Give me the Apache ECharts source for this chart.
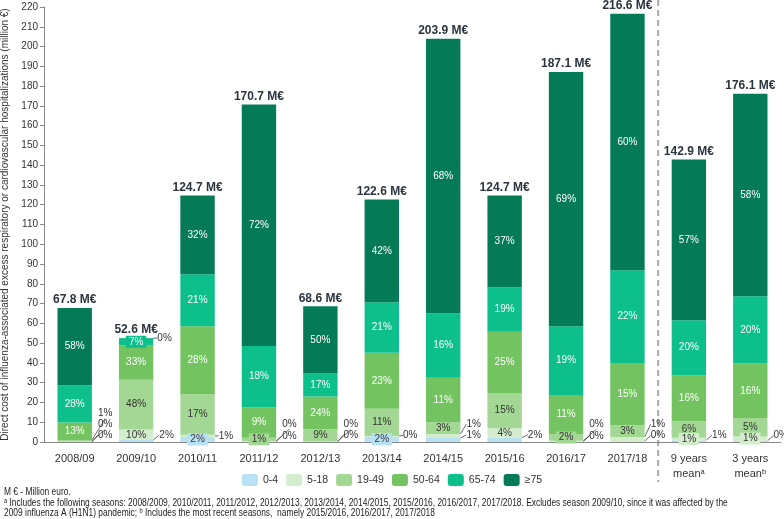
<!DOCTYPE html>
<html>
<head>
<meta charset="utf-8">
<script src="https://cdn.jsdelivr.net/npm/echarts@6/dist/echarts.min.js"></script>
<style>
  html, body { margin: 0; padding: 0; background: #fff; }
  #chart { width: 784px; height: 519px; }
</style>
</head>
<body>
<div id="chart"></div>
<script>
// seasons and the two means
const categories = ['2008/09', '2009/10', '2010/11', '2011/12', '2012/13', '2013/14', '2014/15',
  '2015/16', '2016/17', '2017/18', '9 years\nmean\u1d43', '3 years\nmean\u1d47'];
const totals = [67.8, 52.6, 124.7, 170.7, 68.6, 122.6, 203.9, 124.7, 187.1, 216.6, 142.9, 176.1];

// cost per age group (million €)
const age04   = [0.1, 1.0, 2.5, 0.2, 0.1, 2.7, 2.0, 2.2, 0.2, 0.4, 0.9, 0.6];
const age518  = [0.2, 5.3, 1.2, 0.3, 0.2, 0.3, 2.0, 4.7, 0.4, 2.1, 1.2, 2.2];
const age1949 = [0.7, 25.2, 20.5, 1.7, 6.2, 13.8, 6.1, 17.9, 3.3, 6.0, 8.4, 9.3];
const age5064 = [8.8, 17.4, 34.4, 15.4, 16.5, 28.3, 22.4, 30.9, 19.9, 31.5, 23.3, 27.6];
const age6574 = [18.9, 3.6, 26.2, 31.0, 11.7, 25.6, 32.6, 22.6, 34.8, 46.9, 27.8, 34.0];
const age75   = [39.1, 0.1, 39.9, 122.1, 33.9, 51.9, 138.8, 46.4, 128.5, 129.7, 81.3, 102.4];

// share labels as printed
const pct04   = ['0%', '2%', '2%', '0%', '0%', '2%', '1%', '2%', '0%', '0%', '1%', '0%'];
const pct518  = ['0%', '10%', '1%', '0%', '0%', '0%', '1%', '4%', '0%', '1%', '1%', '1%'];
const pct1949 = ['1%', '48%', '17%', '1%', '9%', '11%', '3%', '15%', '2%', '3%', '6%', '5%'];
const pct5064 = ['13%', '33%', '28%', '9%', '24%', '23%', '11%', '25%', '11%', '15%', '16%', '16%'];
const pct6574 = ['28%', '7%', '21%', '18%', '17%', '21%', '16%', '19%', '19%', '22%', '20%', '20%'];
const pct75   = ['58%', '0%', '32%', '72%', '50%', '42%', '68%', '37%', '69%', '60%', '57%', '58%'];

const groups = ['0-4', '5-18', '19-49', '50-64', '65-74', '≥75'];
const colors = ['#b9e1f4', '#d3edcd', '#a3d894', '#73c360', '#0cbf8b', '#047b56'];
const textColors = ['#333', '#333', '#333', '#fff', '#fff', '#fff'];

// labels moved beside the bar: group index, category index, dy from segment centre
const outLabels = [
  [0, 0, -7], [1, 0, -17], [2, 0, -27],
  [0, 1, -6], [5, 1, 0],
  [1, 2, 0],
  [0, 3, -6], [1, 3, -17],
  [0, 4, -7], [1, 4, -17],
  [1, 5, -1],
  [0, 6, -5], [1, 6, -12],
  [0, 7, -5],
  [0, 8, -6], [1, 8, -17],
  [0, 9, -6], [1, 9, -15],
  [0, 10, -6],
  [0, 11, -6]
];
// small segments whose label sits on a coloured box
const boxLabels = [[0, 2], [2, 3], [0, 5], [2, 8], [1, 10], [1, 11], [4, 1]];

const values = [age04, age518, age1949, age5064, age6574, age75];
const pcts = [pct04, pct518, pct1949, pct5064, pct6574, pct75];

const chart = echarts.init(document.getElementById('chart'));

function findOut(g, i) {
  return outLabels.find(o => o[0] === g && o[1] === i);
}
function isBox(g, i) {
  return boxLabels.some(b => b[0] === g && b[1] === i);
}

const series = groups.map((name, g) => ({
  name: name,
  type: 'bar',
  stack: 'cost',
  barWidth: '56%',
  itemStyle: { color: colors[g] },
  data: values[g].map((v, i) => {
    const item = {
      value: v,
      label: {
        show: true,
        position: 'inside',
        formatter: pcts[g][i],
        color: textColors[g],
        fontSize: 10,
        fontFamily: 'Liberation Sans, Arial, sans-serif'
      }
    };
    if (isBox(g, i)) {
      item.label.backgroundColor = colors[g];
      item.label.padding = [1, 3];
    }
    if (findOut(g, i)) {
      item.label.color = '#333';
      item.labelLine = { show: true, lineStyle: { color: '#444', width: 0.8 } };
    }
    return item;
  }),
  labelLayout: function (params) {
    const o = findOut(g, params.dataIndex);
    if (!o) return {};
    const r = params.rect;
    return {
      x: r.x + r.width + (o[2] === 0 || o[2] === -1 ? 4 : 6),
      y: r.y + r.height / 2 + o[2],
      align: 'left',
      verticalAlign: 'middle'
    };
  }
}));

series.push({
  name: 'total',
  type: 'bar',
  stack: 'cost',
  barWidth: '56%',
  data: totals.map(() => 0),
  label: {
    show: true,
    position: 'top',
    distance: 2,
    formatter: p => totals[p.dataIndex].toFixed(1) + ' M€',
    fontWeight: 'bold',
    fontSize: 12,
    color: '#2b3540',
    fontFamily: 'Liberation Sans, Arial, sans-serif'
  }
});

const option = {
  animation: false,
  backgroundColor: '#fff',
  textStyle: { fontFamily: 'Liberation Sans, Arial, sans-serif' },
  grid: { left: 44, right: 3, top: 7, bottom: 77, outerBoundsMode: 'none', containLabel: false },
  legend: {
    data: groups,
    top: 469,
    left: 'center',
    itemWidth: 16,
    itemHeight: 12,
    itemGap: 8,
    textStyle: { fontSize: 10.5, color: '#333' }
  },
  xAxis: {
    type: 'category',
    data: categories,
    axisLine: { lineStyle: { color: '#888' } },
    axisTick: { show: false },
    axisLabel: { fontSize: 11, color: '#333', margin: 9, lineHeight: 15 }
  },
  yAxis: {
    type: 'value',
    min: 0,
    max: 220,
    interval: 10,
    name: 'Direct cost of influenza-associated excess respiratory or cardiovascular hospitalizations (million €)',
    nameLocation: 'middle',
    nameRotate: 90,
    nameGap: 33,
    nameTextStyle: { fontSize: 10, color: '#333' },
    axisLine: { show: true, lineStyle: { color: '#888' } },
    axisTick: { show: true, length: 4, lineStyle: { color: '#888' } },
    axisLabel: { fontSize: 10, color: '#333', margin: 6 },
    splitLine: { show: false }
  },
  series: series
};

chart.setOption(option);

// dashed separator between the seasons and the means
const xa = chart.convertToPixel({ xAxisIndex: 0 }, 9);
const xb = chart.convertToPixel({ xAxisIndex: 0 }, 10);
const sepX = (xa + xb) / 2;

const noteStyle = { fontSize: 10.5, fill: '#222', fontFamily: 'Liberation Sans, Arial, sans-serif' };
chart.setOption({
  graphic: [
    {
      type: 'line',
      shape: { x1: sepX, y1: 0, x2: sepX, y2: 482 },
      style: { stroke: '#aaa', lineWidth: 2, lineDash: [6, 4] },
      silent: true
    },
    { type: 'text', x: 4, y: 487, scaleX: 0.8, style: Object.assign({ text: 'M € - Million euro.' }, noteStyle) },
    { type: 'text', x: 4, y: 497.5, scaleX: 0.8, style: Object.assign({ text: '\u1d43 Includes the following seasons: 2008/2009, 2010/2011, 2011/2012, 2012/2013, 2013/2014, 2014/2015, 2015/2016, 2016/2017, 2017/2018. Excludes season 2009/10, since it was affected by the' }, noteStyle) },
    { type: 'text', x: 4, y: 508, scaleX: 0.8, style: Object.assign({ text: '2009 influenza A (H1N1) pandemic; \u1d47 Includes the most recent seasons,  namely 2015/2016, 2016/2017, 2017/2018' }, noteStyle) }
  ]
});
</script>
</body>
</html>
